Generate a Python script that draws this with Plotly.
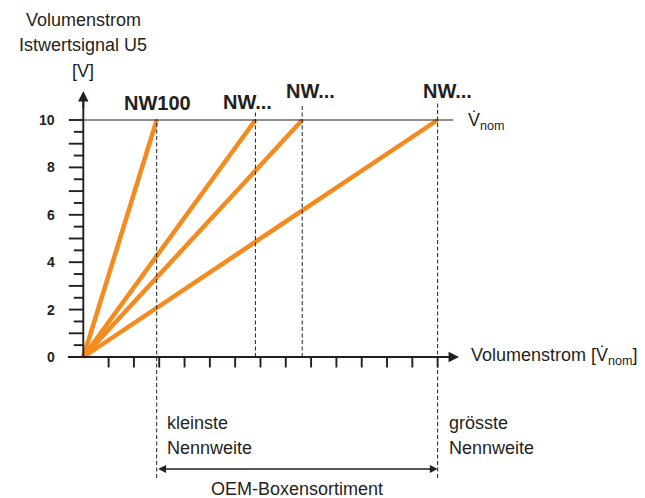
import plotly.graph_objects as go

# ---- data ----
y_label_ticks = [0, 2, 4, 6, 8, 10]
y_int_ticks = list(range(0, 11))
y_half_ticks = [i + 0.5 for i in range(0, 10)]
x_ticks = list(range(1, 15))
nw_labels = ["NW100", "NW...", "NW...", "NW..."]
nw_values = [2.9, 6.8, 8.65, 14.0]   # nominal flow position of each size
signal_max = 10                      # 10 V at V_nom
y_title_lines = ["Volumenstrom", "Istwertsignal U5", "[V]"]

# ---- style / layout constants ----
ORANGE = "#F58A1F"
INK = "#231F20"
FONT = "Liberation Sans, Arial, Helvetica, sans-serif"
W, H = 645, 498
X0_PX, Y0_PX = 83.3, 357.0
PX_PER_X, PX_PER_Y = 25.31, 23.7

def xd(px):
    return (px - X0_PX) / PX_PER_X

def yd(py):
    return (Y0_PX - py) / PX_PER_Y

fig = go.Figure()

# orange characteristic lines
for v in nw_values:
    fig.add_trace(go.Scatter(x=[0, v], y=[0, signal_max], mode="lines",
                             line=dict(color=ORANGE, width=4.5),
                             hoverinfo="skip", showlegend=False))

shapes = []
ann = []
lw = 1.9

# y axis line & x axis line
shapes.append(dict(type="line", x0=0, x1=0, y0=0, y1=yd(100), line=dict(color=INK, width=lw)))
shapes.append(dict(type="line", x0=xd(68), x1=xd(450), y0=0, y1=0, line=dict(color=INK, width=lw)))
# arrows for axes
ann.append(dict(x=0, y=yd(91), ax=0, ay=yd(110), xref="x", yref="y", axref="x", ayref="y",
                text="", showarrow=True, arrowhead=2, arrowsize=1.1, arrowwidth=lw, arrowcolor=INK))
ann.append(dict(x=xd(459), y=0, ax=xd(440), ay=0, xref="x", yref="y", axref="x", ayref="y",
                text="", showarrow=True, arrowhead=2, arrowsize=1.1, arrowwidth=lw, arrowcolor=INK))

# horizontal 10 V line
shapes.append(dict(type="line", x0=0, x1=xd(453), y0=signal_max, y1=signal_max,
                   line=dict(color=INK, width=1.2)))

# y ticks
for t in y_int_ticks:
    shapes.append(dict(type="line", x0=-14.5 / PX_PER_X, x1=0, y0=t, y1=t, line=dict(color=INK, width=lw)))
for t in y_half_ticks:
    shapes.append(dict(type="line", x0=-9.5 / PX_PER_X, x1=0, y0=t, y1=t, line=dict(color=INK, width=lw)))
for t in y_label_ticks:
    ann.append(dict(x=xd(57), y=t, xref="x", yref="y", text=str(t), showarrow=False,
                    xanchor="right", yanchor="middle", font=dict(size=14, color=INK, family=FONT, weight="bold")))

# x ticks
for t in x_ticks:
    shapes.append(dict(type="line", x0=t, x1=t, y0=0, y1=-10.5 / PX_PER_Y, line=dict(color=INK, width=lw)))

# dashed verticals
dash_tops = [10.05, 10.35, 10.7, 10.7]
for i, v in enumerate(nw_values):
    bottom = yd(478) if i in (0, len(nw_values) - 1) else 0
    shapes.append(dict(type="line", x0=v, x1=v, y0=bottom, y1=dash_tops[i],
                       line=dict(color=INK, width=1, dash="4px,2.5px")))

# NW labels
label_pos = [(157, 103), (247.5, 102), (310.5, 91), (447, 91)]
for lab, (px, py) in zip(nw_labels, label_pos):
    ann.append(dict(x=xd(px), y=yd(py), xref="x", yref="y", text=lab, showarrow=False,
                    xanchor="center", yanchor="middle",
                    font=dict(size=20, color=INK, family=FONT, weight="bold")))

# y title
for line, py in zip(y_title_lines, [20, 45, 71]):
    ann.append(dict(x=0, y=yd(py), xref="x", yref="y", text=line, showarrow=False,
                    xanchor="center", yanchor="middle", font=dict(size=18, color=INK, family=FONT)))

# V nom label
ann.append(dict(x=xd(466), y=yd(121), xref="x", yref="y", text="V\u0307<sub>nom</sub>", showarrow=False,
                xanchor="left", yanchor="middle", font=dict(size=18, color=INK, family=FONT)))
# x axis label
ann.append(dict(x=xd(469), y=yd(356), xref="x", yref="y", text="Volumenstrom [V\u0307<sub>nom</sub>]",
                showarrow=False, xanchor="left", yanchor="middle", font=dict(size=18, color=INK, family=FONT)))

# bottom texts
for txt, px in [("kleinste", 165), ("grösste", 447)]:
    ann.append(dict(x=xd(px), y=yd(423), xref="x", yref="y", text=txt, showarrow=False,
                    xanchor="left", yanchor="middle", font=dict(size=18, color=INK, family=FONT)))
    ann.append(dict(x=xd(px), y=yd(448), xref="x", yref="y", text="Nennweite", showarrow=False,
                    xanchor="left", yanchor="middle", font=dict(size=18, color=INK, family=FONT)))

# double arrow
ann.append(dict(x=nw_values[-1], y=yd(469), ax=nw_values[0], ay=yd(469), xref="x", yref="y",
                axref="x", ayref="y", text="", showarrow=True, arrowhead=2, startarrowhead=2,
                arrowside="end+start", arrowsize=1.2, startarrowsize=1.2, arrowwidth=1.3, arrowcolor=INK))
ann.append(dict(x=xd(297), y=yd(489), xref="x", yref="y", text="OEM-Boxensortiment", showarrow=False,
                xanchor="center", yanchor="middle", font=dict(size=18, color=INK, family=FONT)))

fig.update_layout(
    width=W, height=H, margin=dict(l=0, r=0, t=0, b=0),
    paper_bgcolor="white", plot_bgcolor="white",
    xaxis=dict(range=[xd(0), xd(W)], visible=False, fixedrange=True),
    yaxis=dict(range=[yd(H), yd(0)], visible=False, fixedrange=True),
    shapes=shapes, annotations=ann, showlegend=False,
)

fig.write_html("out.html", config={"displayModeBar": False},
               post_script="document.body.style.margin='0';document.body.style.overflow='hidden';")
